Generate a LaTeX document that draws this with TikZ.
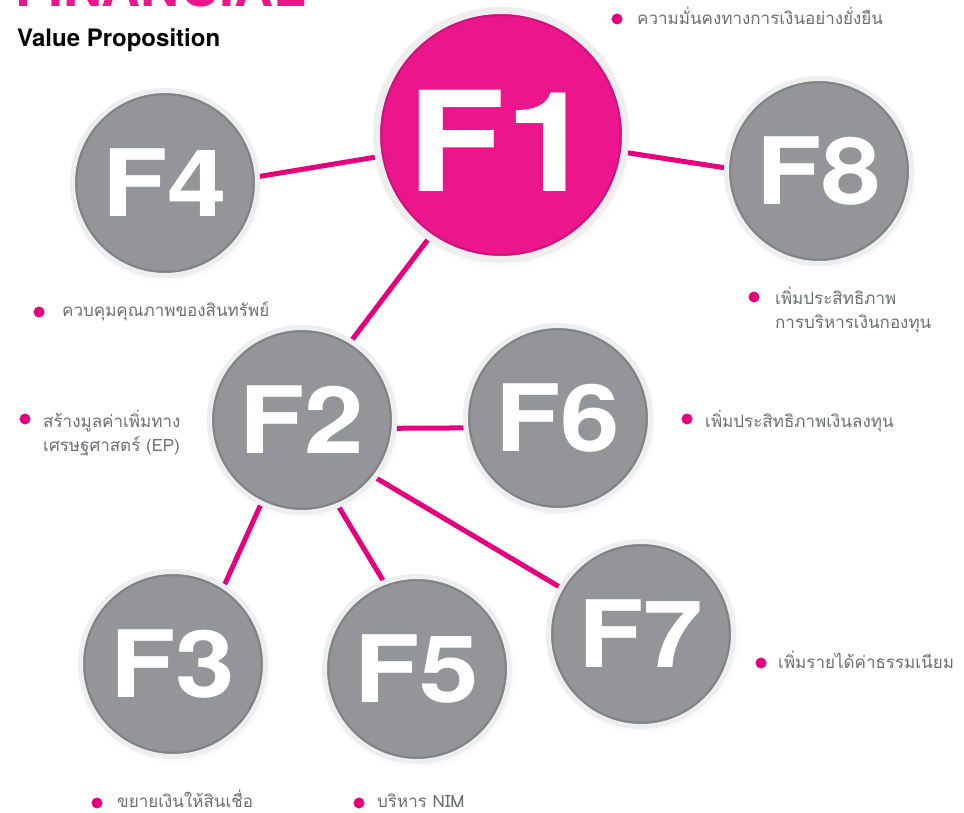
\documentclass[tikz,border=0pt]{standalone}
\usepackage{fontspec}
\setmainfont{TeX Gyre Heros}
\newfontfamily\circfont[FakeStretch=1.15]{TeX Gyre Heros}
\newfontfamily\thaifont[Script=Thai]{Loma}
\usepackage{xcolor}
\usepackage{tikz}
\usetikzlibrary{shadows, backgrounds}

\definecolor{finpink}{HTML}{EC168C}
\definecolor{finpinkdark}{HTML}{D1127C}
\definecolor{linkpink}{HTML}{E6007E}
\definecolor{fingray}{HTML}{939598}
\definecolor{fingraydark}{HTML}{808285}
\definecolor{ringgray}{HTML}{EEEEEE}
\definecolor{txtgray}{HTML}{6D6E71}

\begin{document}
\begin{tikzpicture}[
        x=1pt, y=-1pt,
        % 1. STYLES
        base/.style={
            circle, inner sep=0pt, draw=ringgray, text=white,
            circular drop shadow={shadow scale=1.06, shadow xshift=1pt, shadow yshift=-2pt, opacity=0.12}
        },
        % main goal (pink, larger)
        main/.style={base, minimum size=249pt, line width=7pt, fill=finpink,
            path picture={\draw[finpinkdark, line width=2.5pt] (path picture bounding box.center) circle (120pt);},
            font=\circfont\bfseries\fontsize{139}{139}\selectfont, text height=114pt, text depth=0pt},
        % sub goals (gray)
        sub/.style={base, minimum size=185pt, line width=5pt, fill=fingray,
            path picture={\draw[fingraydark, line width=2.5pt] (path picture bounding box.center) circle (89pt);},
            font=\circfont\bfseries\fontsize{93}{93}\selectfont},
        % pink connector lines
        link/.style={draw=linkpink, line width=5pt},
        % bullet and label text (base = last line)
        dot/.style={circle, fill=linkpink, minimum size=11pt, inner sep=0pt},
        txt/.style={font=\thaifont\fontsize{17}{24}\selectfont, text=txtgray,
            anchor=base west, inner sep=0pt, align=left}
    ]
        \useasboundingbox (0,0) rectangle (964,813);

        % 2. TITLE
        \node[font=\bfseries\fontsize{54}{54}\selectfont, text=finpink, anchor=base west, inner sep=0pt] (title) at (15,7) {FINANCIAL};
        \node[font=\bfseries\fontsize{24}{24}\selectfont, anchor=base west, inner sep=0pt] (subtitle) at (17,47) {Value Proposition};

        % 3. CIRCLES
        \node[main] (F1) at (501,135) {F1};
        \node[sub] (F4) at (165,183) {F4};
        \node[sub] (F8) at (819,171) {F8};
        \node[sub] (F2) at (302,420) {F2};
        \node[sub] (F6) at (558,418) {F6};
        \node[sub] (F3) at (173,664) {F3};
        \node[sub] (F5) at (417,669) {F5};
        \node[sub] (F7) at (641,634) {F7};

        % 4. LABELS
        \node[dot] (d1) at (617,19) {};
        \node[txt] (t1) at (637,25) {ความมั่นคงทางการเงินอย่างยั่งยืน};

        \node[dot] (d4) at (39,312) {};
        \node[txt] (t4) at (62,316) {ควบคุมคุณภาพของสินทรัพย์};

        \node[dot] (d2) at (25,419) {};
        \node[txt] (t2) at (43,451) {สร้างมูลค่าเพิ่มทาง\\เศรษฐศาสตร์ (EP)};

        \node[dot] (d8) at (754,297) {};
        \node[txt] (t8) at (775,328) {เพิ่มประสิทธิภาพ\\การบริหารเงินกองทุน};

        \node[dot] (d6) at (687,419) {};
        \node[txt] (t6) at (705,427) {เพิ่มประสิทธิภาพเงินลงทุน};

        \node[dot] (d7) at (761,663) {};
        \node[txt] (t7) at (778,668) {เพิ่มรายได้ค่าธรรมเนียม};

        \node[dot] (d3) at (97,803) {};
        \node[txt] (t3) at (117,807) {ขยายเงินให้สินเชื่อ};

        \node[dot] (d5) at (359,803) {};
        \node[txt] (t5) at (377,807) {บริหาร NIM};

        % 5. CONNECTORS
        \begin{scope}[on background layer]
            \draw[link] (F4.4) -- (F1.190);
            \draw[link] (F1.-8) -- (F8.178);
            \draw[link] (F2.58) -- (F1.235);
            \draw[link] (F2.-5) -- (F6.186);
            \draw[link] (F2.244) -- (F3.57);
            \draw[link] (F2.-67) -- (F5.111);
            \draw[link] (F2.-38) -- (F7.150);
        \end{scope}

    \end{tikzpicture}
\end{document}
